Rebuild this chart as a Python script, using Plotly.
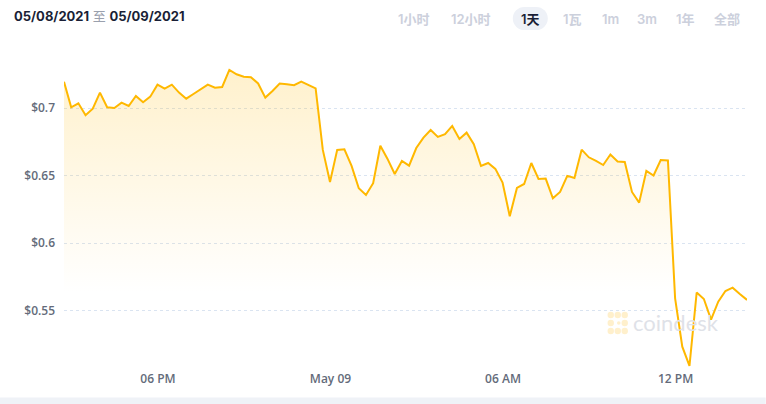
import pandas as pd
import plotly.graph_objects as go

# ---- data ----
start_time = "2021-05-08 14:44"
prices = [
    0.7197, 0.7007, 0.7037, 0.6948, 0.6997, 0.7116, 0.7007, 0.7002, 0.7042, 0.7017,
    0.7091, 0.7045, 0.7086, 0.7175, 0.7145, 0.7175, 0.7116, 0.7071, 0.7106, 0.7143,
    0.7175, 0.7153, 0.7158, 0.7284, 0.7252, 0.7234, 0.7230, 0.7184, 0.7079, 0.7128,
    0.7183, 0.7178, 0.7171, 0.7197, 0.7173, 0.7148, 0.6691, 0.6453, 0.6691, 0.6696,
    0.6572, 0.6406, 0.6357, 0.6444, 0.6722, 0.6624, 0.6512, 0.6609, 0.6574, 0.6705,
    0.6782, 0.6839, 0.6787, 0.6807, 0.6869, 0.6772, 0.6819, 0.6733, 0.6572, 0.6594,
    0.6550, 0.6448, 0.6199, 0.6409, 0.6438, 0.6594, 0.6475, 0.6478, 0.6332, 0.6379,
    0.6498, 0.6483, 0.6693, 0.6636, 0.6609, 0.6579, 0.6657, 0.6605, 0.6602, 0.6379,
    0.6300, 0.6535, 0.6501, 0.6616, 0.6613, 0.5590, 0.5231, 0.5088, 0.5633, 0.5585,
    0.5432, 0.5565, 0.5644, 0.5669, 0.5622, 0.5578,
]
times = pd.date_range(start_time, periods=len(prices), freq="15min")

x_tick_vals = ["2021-05-08 18:00", "2021-05-09 00:00", "2021-05-09 06:00", "2021-05-09 12:00"]
x_tick_text = ["06 PM", "May 09", "06 AM", "12 PM"]
y_tick_vals = [0.55, 0.6, 0.65, 0.7]
y_tick_text = ["$0.55", "$0.6", "$0.65", "$0.7"]

header_from = "05/08/2021"
header_to = "05/09/2021"
header_sep = "至"
range_buttons = ["1小时", "12小时", "1天", "1瓦", "1m", "3m", "1年", "全部"]
selected_button = "1天"

# ---- layout geometry (pixels) ----
W, H = 766, 404
L, R, T, B = 64, 18.7, 60, 34
PW, PH = W - L - R, H - T - B


def px(x):
    return (x - L) / PW


def py(y):
    return (H - B - y) / PH


LINE = "#FFB800"

fig = go.Figure()
fig.add_trace(go.Scatter(
    x=times, y=prices, mode="lines",
    line=dict(color=LINE, width=2),
    fill="tozeroy",
    fillgradient=dict(
        type="vertical",
        start=0.5626, stop=0.73,
        colorscale=[[0, "rgba(255,184,0,0)"], [1, "rgba(255,184,0,0.2)"]],
    ),
    hoverinfo="skip",
    showlegend=False,
))

AX_FONT = dict(family="Open Sans", size=12, color="#646b7a", weight=600)

fig.update_xaxes(
    range=[times[0], times[-1]],
    tickvals=x_tick_vals, ticktext=x_tick_text,
    showgrid=False, zeroline=False, showline=False,
    tickfont=AX_FONT, ticks="", ticklabelstandoff=0,
)
fig.update_yaxes(
    range=[0.5058, 0.7358],
    tickvals=y_tick_vals, ticktext=y_tick_text,
    showgrid=True, gridcolor="#dae4f1", griddash="dot", gridwidth=1,
    zeroline=False, showline=False,
    tickfont=AX_FONT, ticks="", ticklabelstandoff=8,
)

annotations = []
# header date range
annotations.append(dict(
    xref="paper", yref="paper", x=px(12), y=py(16), xanchor="left", yanchor="middle",
    text=f"<b>{header_from}</b> <span style='color:#9aa0ad'>{header_sep}</span> <b>{header_to}</b>",
    showarrow=False,
    font=dict(family="Inter, Noto Sans CJK SC", size=13, color="#1a1f36"),
))

button_centers = [414.5, 471, 530.5, 573, 611, 647.5, 685.5, 727.5]
shapes = []
for label, cx in zip(range_buttons, button_centers):
    sel = label == selected_button
    if sel:
        shapes.append(dict(
            type="rect", xref="paper", yref="paper",
            x0=px(cx - 6), x1=px(cx + 6), y0=py(30), y1=py(7),
            fillcolor="#eef1f7", line=dict(width=0), layer="below",
        ))
        for ex in (cx - 6, cx + 6):
            shapes.append(dict(
                type="circle", xref="paper", yref="paper",
                x0=px(ex - 11.5), x1=px(ex + 11.5), y0=py(30), y1=py(7),
                fillcolor="#eef1f7", line=dict(width=0), layer="below",
            ))
    annotations.append(dict(
        xref="paper", yref="paper", x=px(cx), y=py(18.5), xanchor="center", yanchor="middle",
        text=label, showarrow=False,
        font=dict(family="Inter, Noto Sans CJK SC", size=13,
                  color="#1a1f36" if sel else "#ccd0dc", weight=600),
    ))

# coindesk watermark
annotations.append(dict(
    xref="paper", yref="paper", x=px(631), y=py(322), xanchor="left", yanchor="middle",
    text="coindesk", showarrow=False,
    font=dict(family="Lato, Open Sans", size=22, color="#dfe2e8"),
))
for (dx, dy) in [(611, 315), (618, 315), (625, 315), (611, 323), (611, 331), (618, 331),
                 (625, 331), (619, 323), (625, 323)]:
    r = 3.2 if (dx, dy) != (619, 323) else 1.8
    shapes.append(dict(
        type="circle", xref="paper", yref="paper",
        x0=px(dx - r), x1=px(dx + r), y0=py(dy + r), y1=py(dy - r),
        fillcolor="#fff0cc", line=dict(width=0), layer="above",
    ))

# bottom gray band
shapes.append(dict(
    type="rect", xref="paper", yref="paper",
    x0=px(0), x1=px(W), y0=py(H), y1=py(397.5),
    fillcolor="#eff2f7", line=dict(width=0), layer="above",
))

fig.update_layout(
    width=W, height=H,
    margin=dict(l=L, r=R, t=T, b=B, pad=0),
    paper_bgcolor="white", plot_bgcolor="white",
    annotations=annotations, shapes=shapes,
    showlegend=False,
)

fig.write_html(
    "out.html",
    config={"displayModeBar": False},
    post_script="document.body.style.margin='0';document.body.style.overflow='hidden';",
)
